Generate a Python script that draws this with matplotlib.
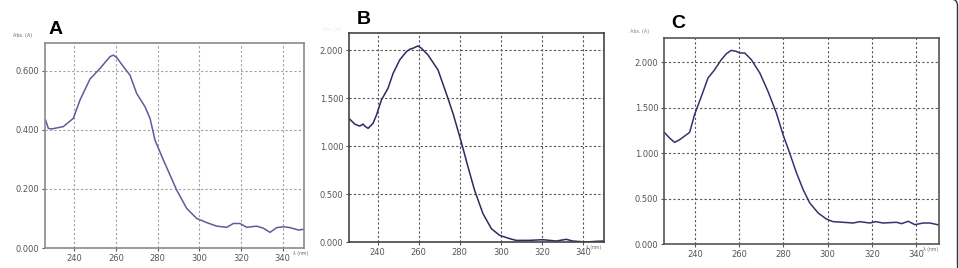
import matplotlib
matplotlib.use("Agg")
import matplotlib.pyplot as plt
from matplotlib.patches import FancyBboxPatch

# ---- data ----
wl_a = [226.3, 227.6, 229.2, 234.8, 239.6, 242.8, 247.6, 252.4, 257.2, 258.8, 260.4, 263.6,
        266.8, 270.0, 274.0, 276.4, 278.8, 282.8, 286.0, 289.2, 294.0, 298.8, 303.6, 308.4,
        313.2, 316.4, 319.6, 322.8, 327.6, 330.8, 334.0, 337.2, 340.4, 343.6, 347.6, 350.0]
abs_a = [0.433, 0.405, 0.403, 0.411, 0.439, 0.501, 0.572, 0.608, 0.648, 0.653, 0.645, 0.614,
         0.585, 0.523, 0.478, 0.439, 0.365, 0.298, 0.247, 0.196, 0.134, 0.100, 0.086, 0.074,
         0.070, 0.083, 0.083, 0.070, 0.074, 0.067, 0.053, 0.069, 0.072, 0.069, 0.061, 0.063]

wl_b = [226.0, 228.8, 231.2, 232.9, 233.7, 235.3, 237.7, 239.4, 241.8, 245.0, 247.5, 250.7,
        254.0, 255.6, 257.2, 259.6, 261.3, 264.5, 269.4, 273.4, 276.7, 280.7, 284.0, 287.2,
        291.3, 295.4, 299.4, 304.3, 307.5, 314.0, 320.5, 327.0, 331.9, 335.1, 341.6, 346.5, 350.2]
abs_b = [1.289, 1.230, 1.209, 1.230, 1.209, 1.185, 1.237, 1.324, 1.481, 1.603, 1.759, 1.899,
         1.986, 2.010, 2.021, 2.045, 2.021, 1.951, 1.794, 1.550, 1.341, 1.045, 0.784, 0.540,
         0.296, 0.139, 0.070, 0.035, 0.017, 0.017, 0.024, 0.010, 0.028, 0.010, 0.000, 0.007, 0.010]

wl_c = [226.0, 228.5, 230.8, 233.1, 237.6, 239.8, 242.9, 245.9, 248.9, 251.9, 254.2, 256.4,
        258.7, 260.2, 262.5, 265.5, 269.3, 273.0, 276.8, 279.8, 282.8, 285.9, 288.9, 291.9,
        295.7, 299.4, 302.4, 307.0, 311.5, 314.5, 319.0, 321.7, 325.0, 331.1, 333.4, 336.4,
        339.4, 343.2, 346.2, 350.4]
abs_c = [1.233, 1.167, 1.119, 1.149, 1.229, 1.424, 1.626, 1.828, 1.919, 2.029, 2.095, 2.132,
         2.121, 2.103, 2.103, 2.029, 1.883, 1.681, 1.442, 1.204, 1.002, 0.782, 0.598, 0.451,
         0.341, 0.275, 0.246, 0.239, 0.231, 0.246, 0.231, 0.246, 0.231, 0.239, 0.224, 0.250,
         0.213, 0.231, 0.231, 0.209]

x_ticks = [240, 260, 280, 300, 320, 340]
y_ticks_a = [0.0, 0.2, 0.4, 0.6]
y_ticks_bc = [0.0, 0.5, 1.0, 1.5, 2.0]
panel_labels = ["A", "B", "C"]

W, H = 959, 268
fig = plt.figure(figsize=(W / 100, H / 100), dpi=100)


def px_axes(l, t, r, b):
    return fig.add_axes([l / W, (H - b) / H, (r - l) / W, (b - t) / H])


panels = [
    dict(box=(45, 43, 304, 248), x=wl_a, y=abs_a, yt=y_ticks_a, ylim=0.694,
         color="#5c5c9c", grid="#a0a0a0", frame="#8a8a8a", lbl=(56, 29),
         abs_pos=(13, 35), abs_alpha=1.0, lam=(293, 254)),
    dict(box=(349, 33, 604, 242), x=wl_b, y=abs_b, yt=y_ticks_bc, ylim=2.18,
         color="#2b2b5e", grid="#555555", frame="#444444", lbl=(364, 20),
         abs_pos=(322, 29), abs_alpha=0.15, lam=(586, 247)),
    dict(box=(664, 38, 939, 244), x=wl_c, y=abs_c, yt=y_ticks_bc, ylim=2.268,
         color="#33336e", grid="#555555", frame="#555555", lbl=(678, 24),
         abs_pos=(630, 32), abs_alpha=0.8, lam=(923, 249)),
]

for lab, p in zip(panel_labels, panels):
    ax = px_axes(*p["box"])
    ax.plot(p["x"], p["y"], color=p["color"], lw=1.1)
    ax.set_xlim(226, 350.3)
    ax.set_ylim(0, p["ylim"])
    ax.set_xticks(x_ticks)
    ax.set_yticks(p["yt"])
    ax.set_yticklabels([f"{v:.3f}" for v in p["yt"]])
    ax.grid(True, color=p["grid"], ls=(0, (2, 2)), lw=0.8)
    ax.tick_params(labelsize=6, colors="#555555", length=2.5, width=0.8, pad=1.5)
    for s in ax.spines.values():
        s.set_color(p["frame"])
        s.set_linewidth(1.2)
    fig.text(p["lbl"][0] / W, (H - p["lbl"][1]) / H, lab, fontsize=14, fontweight="bold",
             family="Liberation Sans", ha="center", va="center", color="black")
    fig.text(p["abs_pos"][0] / W, (H - p["abs_pos"][1]) / H, "Abs. (A)", fontsize=3.5,
             color="#666666", alpha=p["abs_alpha"], ha="left", va="center")
    fig.text(p["lam"][0] / W, (H - p["lam"][1]) / H, "λ (nm)", fontsize=3.3,
             color="#666666", ha="left", va="center")

# page frame (right edge with small rounded corner)
frame = FancyBboxPatch((-30 / W, -30 / H), (957.5 + 30) / W, (H + 30 + 1) / H,
                       boxstyle="round,pad=0,rounding_size=0.007",
                       transform=fig.transFigure, fill=False, ec="#333333", lw=1.0,
                       mutation_aspect=W / H)
fig.patches.append(frame)

fig.savefig("out.png", dpi=100)
